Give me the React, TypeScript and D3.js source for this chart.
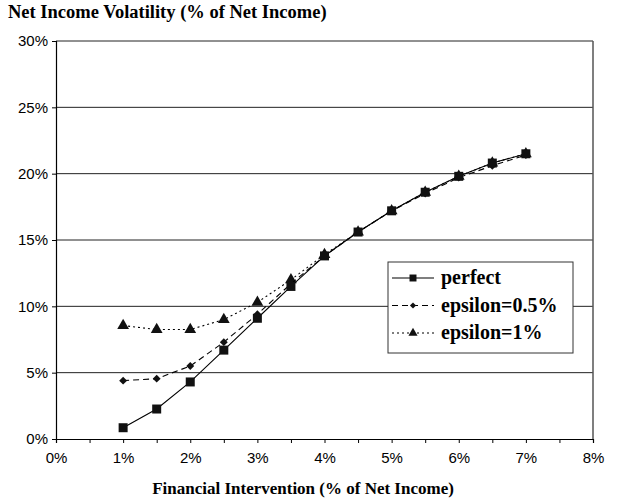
import * as d3 from "d3";
import { useEffect, useRef } from "react";

const xValues = [1, 1.5, 2, 2.5, 3, 3.5, 4, 4.5, 5, 5.5, 6, 6.5, 7];
const perfect = [0.85, 2.26, 4.3, 6.7, 9.1, 11.5, 13.8, 15.6, 17.2, 18.6, 19.8, 20.8, 21.5];
const eps05 = [4.4, 4.55, 5.5, 7.3, 9.4, 11.7, 13.8, 15.6, 17.2, 18.5, 19.7, 20.6, 21.4];
const eps1 = [8.55, 8.25, 8.25, 9.0, 10.3, 12.0, 13.9, 15.6, 17.2, 18.6, 19.8, 20.8, 21.5];
const xTicks = [0, 1, 2, 3, 4, 5, 6, 7, 8];
const yTicks = [0, 5, 10, 15, 20, 25, 30];
const seriesNames = ["perfect", "epsilon=0.5%", "epsilon=1%"];

export default function App() {
  const ref = useRef<SVGSVGElement>(null);

  useEffect(() => {
    const svg = d3.select(ref.current);
    svg.selectAll("*").remove();

    const left = 56, right = 593, top = 41, bottom = 439;
    const x = d3.scaleLinear().domain([0, 8]).range([left, right]);
    const y = d3.scaleLinear().domain([0, 30]).range([bottom, top]);
    const serif = "'Liberation Serif', 'Times New Roman', serif";

    // title
    svg.append("text").attr("x", 8).attr("y", 18)
      .style("font-family", serif)
      .style("font-weight", "bold").style("font-size", "18.5px")
      .text("Net Income Volatility (% of Net Income)");

    // gridlines
    svg.append("g").selectAll("line").data(yTicks.slice(1)).enter().append("line")
      .attr("x1", left).attr("x2", right)
      .attr("y1", d => y(d)).attr("y2", d => y(d))
      .attr("stroke", "#222").attr("stroke-width", 1);

    // frame right side
    svg.append("line").attr("x1", right).attr("x2", right).attr("y1", top).attr("y2", bottom)
      .attr("stroke", "#555").attr("stroke-width", 1.5);

    // axes
    const fmt = (d: any) => d + "%";
    const xAxis = svg.append("g").attr("transform", "translate(0," + bottom + ")")
      .call(d3.axisBottom(x).tickValues(d3.range(0, 8.01, 0.5)).tickSize(4)
        .tickFormat((d: any) => (xTicks.includes(d) ? fmt(d) : "")));
    const yAxis = svg.append("g").attr("transform", "translate(" + left + ",0)")
      .call(d3.axisLeft(y).tickValues(yTicks).tickSize(4).tickFormat(fmt));
    [xAxis, yAxis].forEach(a => {
      a.select(".domain").attr("stroke", "#000").attr("stroke-width", 1.2);
      a.selectAll(".tick line").attr("stroke", "#000");
      a.selectAll("text").style("font-family", "'Liberation Sans', Arial, sans-serif")
        .style("font-size", "15px").attr("fill", "#000");
    });
    xAxis.selectAll("text").attr("dy", "1.15em");
    yAxis.selectAll("text").attr("dx", "-1px");

    svg.append("text").attr("x", 303).attr("y", 494).attr("text-anchor", "middle")
      .style("font-family", serif)
      .style("font-weight", "bold").style("font-size", "17px")
      .text("Financial Intervention (% of Net Income)");

    const data = [perfect, eps05, eps1];
    const dashes = ["none", "6,4", "2,3"];
    const symbols = [d3.symbolSquare, d3.symbolDiamond2, d3.symbolTriangle];
    const sizes = [81, 40, 60];

    const line = d3.line<number>().x((d, i) => x(xValues[i])).y(d => y(d));

    // draw in reverse so "perfect" on top
    [2, 1, 0].forEach(k => {
      svg.append("path").datum(data[k]).attr("d", line)
        .attr("fill", "none").attr("stroke", "#000").attr("stroke-width", 1.1)
        .attr("stroke-dasharray", dashes[k]);
      svg.append("g").selectAll("path").data(data[k]).enter().append("path")
        .attr("transform", (d, i) => "translate(" + x(xValues[i]) + "," + y(d) + ")")
        .attr("d", d3.symbol().type(symbols[k]).size(sizes[k]))
        .attr("fill", "#111");
    });

    // legend
    const lx = 388, ly = 262, lw = 185, lh = 91;
    const lg = svg.append("g");
    lg.append("rect").attr("x", lx).attr("y", ly).attr("width", lw).attr("height", lh)
      .attr("fill", "#fff").attr("stroke", "#333").attr("stroke-width", 1);
    seriesNames.forEach((name, k) => {
      const cy = ly + 16 + k * 27.5;
      lg.append("line").attr("x1", lx + 4).attr("x2", lx + 46).attr("y1", cy).attr("y2", cy)
        .attr("stroke", "#000").attr("stroke-width", 1.1).attr("stroke-dasharray", dashes[k]);
      lg.append("path").attr("transform", "translate(" + (lx + 25) + "," + cy + ")")
        .attr("d", d3.symbol().type(symbols[k]).size(sizes[k] * 0.6)).attr("fill", "#111");
      lg.append("text").attr("x", lx + 53).attr("y", cy + 6)
        .style("font-family", serif)
        .style("font-weight", "bold").style("font-size", "20px")
        .text(name);
    });
  }, []);

  return (
    <div>
      <svg ref={ref} width={617} height={500} style={{ position: "absolute", left: 0, top: 0 }} />
    </div>
  );
}
